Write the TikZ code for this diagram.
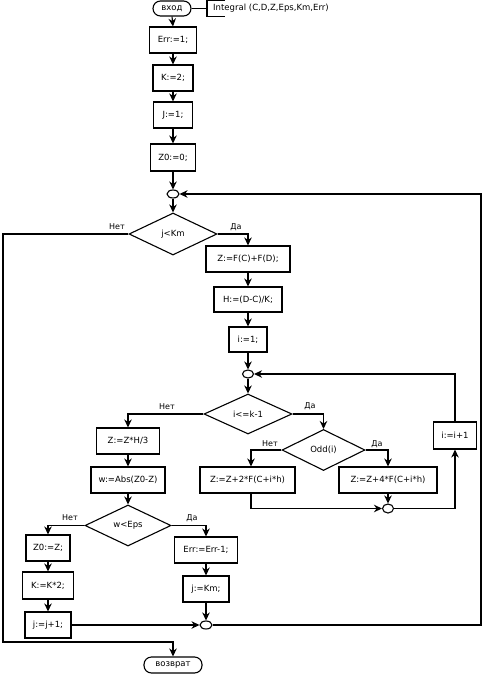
\documentclass[tikz,border=0pt]{standalone}
\usepackage{fontspec}
\setmainfont{DejaVu Sans}
\usetikzlibrary{shapes.geometric,arrows.meta}
\begin{document}
\begin{tikzpicture}[x=1pt,y=-1pt,
  every node/.style={font=\fontsize{8.5}{10}\selectfont, inner sep=1pt},
  ln/.style={line width=1.1pt},
  arr/.style={ln,-{Stealth[length=8pt,width=7.5pt]}},
  box/.style={draw,ln,rectangle,minimum height=26pt,align=center},
  dec/.style={draw,ln,diamond,inner sep=0pt},
  con/.style={draw,ln,ellipse,minimum width=12pt,minimum height=8pt,inner sep=0pt},
  term/.style={draw,ln,rectangle,rounded corners=7.5pt,minimum height=15pt},
  lbl/.style={font=\fontsize{8}{10}\selectfont}]
\useasboundingbox (0,0) rectangle (483,674);
% nodes
\node[term,minimum width=38pt] (start) at (172,8.5) {вход};
\node[anchor=west,minimum height=15pt,inner sep=0pt,text width=130pt] (cmt) at (207,8.5) {\hspace{6pt}Integral (C,D,Z,Eps,Km,Err)};
\node[box,minimum width=47pt] (err) at (173,40) {Err:=1;};
\node[box,minimum width=40pt] (k2) at (173,78) {K:=2;};
\node[box,minimum width=39pt] (j1) at (173,115) {J:=1;};
\node[box,minimum width=45pt,minimum height=27pt] (z0) at (173,157.5) {Z0:=0;};
\node[con] (c1) at (173,194) {};
\node[dec,minimum width=88pt,minimum height=42pt] (d1) at (173,234) {j<Km};
\node[box,minimum width=84pt] (zf) at (248,259) {Z:=F(C)+F(D);};
\node[box,minimum width=68pt,minimum height=25pt] (h) at (248,299.5) {H:=(D-C)/K;};
\node[box,minimum width=38pt,minimum height=25pt] (i1) at (248,339.5) {i:=1;};
\node[con,minimum width=11pt] (c2) at (248,374) {};
\node[dec,minimum width=88pt,minimum height=40pt] (d2) at (248,414) {i<=k-1};
\node[dec,minimum width=83pt,minimum height=41pt] (odd) at (323.5,450) {Odd(i)};
\node[box,minimum width=95pt] (z2) at (247.5,480) {Z:=Z+2*F(C+i*h)};
\node[box,minimum width=98pt] (z4) at (388,480) {Z:=Z+4*F(C+i*h)};
\node[con,minimum width=11pt,minimum height=9pt] (c3) at (388,508.5) {};
\node[box,minimum width=43pt,minimum height=27pt] (ii) at (455,435.5) {i:=i+1};
\node[box,minimum width=63pt] (zh) at (128,441) {Z:=Z*H/3};
\node[box,minimum width=74pt] (w) at (128,480) {w:=Abs(Z0-Z)};
\node[dec,minimum width=86pt,minimum height=41pt] (d3) at (128,525.5) {w<Eps};
\node[box,minimum width=44pt] (z0z) at (48,548) {Z0:=Z;};
\node[box,minimum width=51pt,minimum height=27pt] (kk) at (48,585.5) {K:=K*2;};
\node[box,minimum width=46pt] (jj) at (48,625) {j:=j+1;};
\node[box,minimum width=63pt] (errm) at (206,550) {Err:=Err-1;};
\node[box,minimum width=46pt] (jkm) at (206,589) {j:=Km;};
\node[con] (c4) at (206,625) {};
\node[term,minimum width=58pt,minimum height=16pt] (ret) at (173,665) {возврат};
% labels
\node[lbl] (l1) at (117,227) {Нет};
\node[lbl] (l2) at (236,227) {Да};
\node[lbl] (l3) at (167,407) {Нет};
\node[lbl] (l4) at (310,406) {Да};
\node[lbl] (l5) at (270,444) {Нет};
\node[lbl] (l6) at (377,444) {Да};
\node[lbl] (l7) at (70,518) {Нет};
\node[lbl] (l8) at (192,518) {Да};
% coordinates
\coordinate (R) at (481,194);
\coordinate (L) at (3,642);
\coordinate (M) at (173,642);
% comment bracket
\draw[ln] (start.east) -- (cmt.west);
\draw[ln] ([xshift=18pt]cmt.north west) -- (cmt.north west) -- (cmt.south west) -- ([xshift=18pt]cmt.south west);
% connectors
\draw[arr] (start.south) -- (err.north);
\draw[arr] (err.south) -- (k2.north);
\draw[arr] (k2.south) -- (j1.north);
\draw[arr] (j1.south) -- (z0.north);
\draw[arr] (z0.south) -- (c1.north);
\draw[arr] (c1.south) -- (d1.north);
\draw[arr] (d1.east) -| (zf.north);
\draw[arr] (zf.south) -- (h.north);
\draw[arr] (h.south) -- (i1.north);
\draw[arr] (i1.south) -- (c2.north);
\draw[arr] (c2.south) -- (d2.north);
\draw[arr] (d2.east) -| (odd.north);
\draw[arr] (d2.west) -| (zh.north);
\draw[arr] (odd.west) -| ([xshift=3.5pt]z2.north);
\draw[arr] (odd.east) -| (z4.north);
\draw[arr] (z4.south) -- (c3.north);
\draw[arr] ([xshift=3.5pt]z2.south) |- (c3.west);
\draw[arr] (c3.east) -| (ii.south);
\draw[arr] (ii.north) |- (c2.east);
\draw[arr] (zh.south) -- (w.north);
\draw[arr] (w.south) -- (d3.north);
\draw[arr] (d3.west) -| (z0z.north);
\draw[arr] (d3.east) -| (errm.north);
\draw[arr] (z0z.south) -- (kk.north);
\draw[arr] (kk.south) -- (jj.north);
\draw[arr] (errm.south) -- (jkm.north);
\draw[arr] (jkm.south) -- (c4.north);
\draw[arr] (jj.east) -- (c4.west);
\draw[arr] (c4.east) -| (R) -- (c1.east);
\draw[arr] (d1.west) -| (L) -- (M) -- (ret.north);
\end{tikzpicture}
\end{document}
